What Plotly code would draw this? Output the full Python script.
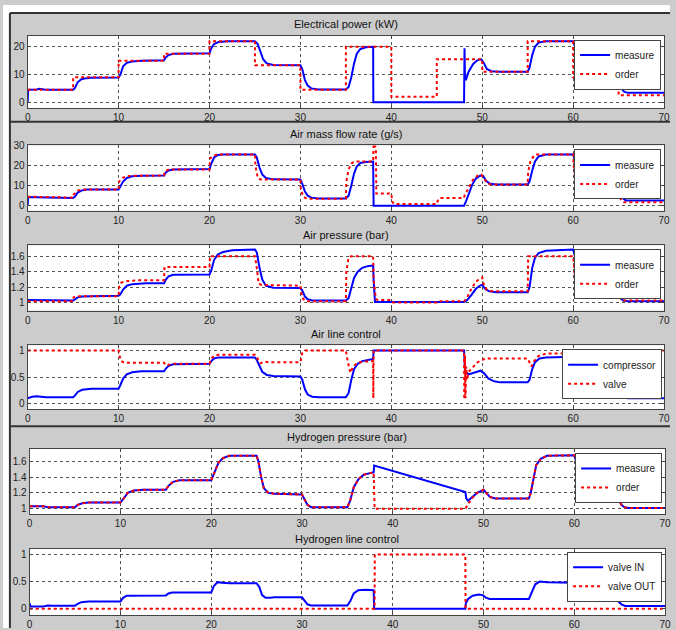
import plotly.graph_objects as go

W, H = 676, 630

# ---------------- DATA ----------------
# Panel 1: Electrical power (kW)
p1_meas_t = [0, 0.05, 1, 1.3, 1.8, 2.5, 5, 5.2, 5.5, 5.9, 6.5, 7, 10, 10.2, 10.5, 10.9, 11.5, 12.5, 15, 15.2, 15.5, 16, 20, 20.2, 20.5, 21, 22, 25, 25.3, 25.6, 25.9, 26.3, 27, 30, 30.2, 30.5, 30.8, 31.2, 32, 35, 35.3, 35.6, 35.9, 36.2, 36.6, 37.2, 38, 38.02, 48, 48.05, 48.1, 48.2, 48.5, 49, 49.5, 49.9, 50.2, 50.5, 51, 52, 55, 55.2, 55.5, 55.8, 56.2, 57, 60, 60.2, 60.5, 60.8, 61.2, 62, 64.9, 65.1, 65.3, 65.6, 66, 70]
p1_meas_v = [0, 4.5, 4.6, 4.9, 4.6, 4.5, 4.5, 5.2, 7.2, 8.3, 8.7, 8.8, 8.9, 10, 13, 14.2, 14.7, 15, 15.1, 16.2, 17, 17.5, 17.7, 19.5, 21, 21.7, 22, 22, 21, 18, 15.5, 14, 13.4, 13.3, 12, 8, 6, 5, 4.6, 4.6, 5.5, 9, 14, 17.5, 19.2, 19.8, 20, 0, 0, 19.5, 9, 8, 11, 13.8, 15.2, 15.5, 14, 12, 11.2, 11, 11, 12.5, 17, 20, 21.5, 22, 22, 20, 15, 11.5, 10, 9.5, 9.5, 8, 5, 3.8, 3.4, 3.4]
p1_order_t = [0, 5, 10, 15, 20, 25, 30, 35, 40, 45, 50, 55, 60, 65, 70]
p1_order_v = [4.5, 9, 15, 17.5, 22, 13.3, 4.5, 20, 2, 15.5, 11, 22, 9, 2.5, 2.5]

# Panel 2: Air mass flow rate (g/s)
p2_meas_t = [0, 0.05, 2, 5, 5.2, 5.5, 5.9, 6.5, 10, 10.2, 10.5, 10.9, 11.5, 12.5, 15, 15.2, 15.5, 16, 20, 20.2, 20.5, 20.9, 21.5, 25, 25.2, 25.5, 25.8, 26.2, 27, 30, 30.2, 30.5, 30.8, 31.2, 32, 35, 35.3, 35.6, 35.9, 36.2, 36.6, 37.2, 38, 38.05, 48, 48.2, 48.5, 48.9, 49.3, 49.8, 50.1, 50.4, 50.8, 51.5, 55, 55.2, 55.5, 55.8, 56.2, 57, 60, 60.2, 60.5, 60.8, 61.2, 62, 65, 65.2, 65.5, 65.8, 70]
p2_meas_v = [0, 4.3, 4.1, 3.8, 4.5, 6.5, 7.5, 8, 8.1, 9.5, 12, 13.8, 14.6, 14.9, 15, 16.5, 17.5, 18, 18.2, 21, 24, 25.2, 25.5, 25.5, 24, 19, 15.5, 13.8, 13.1, 13, 11, 7, 5, 4, 3.6, 3.6, 5, 10, 16, 19.5, 21.3, 21.8, 22, 0, 0, 2, 6, 10.5, 13.5, 15, 14.8, 12.5, 11, 10.5, 10.5, 12, 17.5, 22, 24.5, 25.5, 25.5, 23, 16, 11, 9.5, 8.8, 8.8, 6, 3.5, 2.6, 2.6]
p2_order_t = [0, 2, 5, 5.05, 5.5, 6, 10, 10.05, 10.5, 11, 15, 15.05, 15.5, 20, 20.05, 20.5, 21, 25, 25.05, 25.3, 25.6, 30, 30.05, 30.3, 30.7, 35, 35.05, 35.3, 35.6, 36, 38, 38.05, 38.3, 38.35, 40, 40.1, 40.3, 45, 45.1, 45.3, 48, 48.05, 48.5, 49, 49.5, 49.9, 50.2, 50.6, 51, 55, 55.05, 55.3, 55.7, 56, 60, 60.05, 60.3, 60.6, 61, 65, 65.05, 65.3, 65.6, 70]
p2_order_v = [4.5, 4.2, 4, 5.5, 7.5, 8, 8, 12, 14, 14.8, 15, 17, 18, 18, 23.5, 25, 25.5, 25.5, 20, 14, 13, 13, 8, 4.5, 3.5, 3.5, 12, 18, 21, 22, 22, 31, 29, 6, 6, 2, 0.8, 0.8, 2.5, 3.8, 3.8, 5, 9, 13, 15, 15.5, 13.5, 11, 10.5, 10.5, 17, 22, 25, 25.5, 25.5, 20, 12, 9, 8.5, 8.5, 5, 2.5, 1.7, 1.7]

# Panel 3: Air pressure (bar)
p3_meas_t = [0, 1.5, 2, 5, 5.2, 5.5, 6, 7, 10, 10.2, 10.5, 10.9, 11.5, 13, 15, 15.2, 15.5, 16, 20, 20.2, 20.5, 20.9, 21.5, 22.5, 25, 25.2, 25.5, 25.8, 26.2, 27, 30, 30.2, 30.5, 30.8, 31.3, 35, 35.3, 35.6, 35.9, 36.3, 36.8, 37.5, 38, 38.05, 38.2, 48, 48.3, 48.8, 49.3, 49.8, 50, 50.3, 50.7, 51.5, 55, 55.2, 55.5, 55.8, 56.2, 57, 60, 60.2, 60.5, 60.8, 61.3, 62, 65, 65.2, 65.5, 66, 70]
p3_meas_v = [1.035, 1.035, 1.03, 1.03, 1.045, 1.07, 1.08, 1.085, 1.09, 1.11, 1.17, 1.22, 1.24, 1.25, 1.25, 1.3, 1.34, 1.36, 1.365, 1.42, 1.55, 1.62, 1.655, 1.675, 1.685, 1.65, 1.45, 1.3, 1.22, 1.195, 1.19, 1.16, 1.08, 1.045, 1.03, 1.03, 1.06, 1.2, 1.32, 1.4, 1.45, 1.475, 1.48, 1.3, 1.01, 1.01, 1.03, 1.1, 1.18, 1.225, 1.23, 1.18, 1.15, 1.135, 1.135, 1.2, 1.45, 1.58, 1.64, 1.67, 1.685, 1.6, 1.35, 1.17, 1.11, 1.1, 1.1, 1.06, 1.03, 1.02, 1.02]
p3_order_t = [0, 5, 5.05, 5.5, 10, 10.05, 10.3, 11, 12, 15, 15.05, 20, 20.05, 25, 25.2, 25.4, 25.7, 30, 30.05, 30.3, 30.6, 35, 35.05, 35.3, 35.6, 38, 38.05, 38.3, 38.5, 40, 40.2, 45, 45.1, 48, 48.3, 48.8, 49.3, 49.8, 50, 50.2, 50.5, 51, 55, 55.05, 60, 60.2, 60.5, 60.9, 65, 65.1, 65.4, 70]
p3_order_v = [1.02, 1.02, 1.07, 1.085, 1.085, 1.22, 1.26, 1.28, 1.29, 1.29, 1.46, 1.46, 1.6, 1.6, 1.45, 1.25, 1.23, 1.22, 1.15, 1.05, 1.02, 1.02, 1.4, 1.58, 1.6, 1.6, 1.3, 1.05, 1.035, 1.035, 1.005, 1.005, 1.02, 1.02, 1.06, 1.18, 1.27, 1.32, 1.325, 1.22, 1.17, 1.15, 1.15, 1.6, 1.6, 1.3, 1.13, 1.11, 1.11, 1.07, 1.03, 1.03]

# Panel 4: Air line control
p4_comp_t = [0, 0.5, 1, 2, 5, 5.2, 5.5, 6, 7, 10, 10.2, 10.5, 10.9, 11.5, 12.5, 15, 15.2, 15.5, 16, 20, 20.2, 20.5, 21, 25, 25.2, 25.5, 25.8, 26.3, 27, 30, 30.2, 30.5, 30.8, 31.3, 32, 35, 35.3, 35.6, 35.9, 36.3, 36.8, 38, 38.05, 48, 48.1, 48.5, 49, 49.8, 50.2, 50.7, 51.3, 52, 55, 55.2, 55.5, 55.8, 56.3, 57, 60, 60.3, 60.6, 60.9, 61.4, 62, 65, 65.2, 65.5, 66, 70]
p4_comp_v = [0.1, 0.13, 0.14, 0.12, 0.12, 0.15, 0.22, 0.26, 0.28, 0.28, 0.35, 0.47, 0.55, 0.59, 0.61, 0.61, 0.66, 0.71, 0.74, 0.75, 0.8, 0.85, 0.87, 0.87, 0.82, 0.7, 0.6, 0.54, 0.52, 0.51, 0.45, 0.27, 0.17, 0.13, 0.12, 0.12, 0.2, 0.45, 0.65, 0.75, 0.8, 0.84, 1, 1, 0.6, 0.55, 0.58, 0.62, 0.57, 0.47, 0.42, 0.4, 0.4, 0.45, 0.65, 0.78, 0.85, 0.87, 0.88, 0.8, 0.55, 0.4, 0.33, 0.3, 0.3, 0.22, 0.12, 0.1, 0.1]
p4_valve_t = [0, 10, 10.1, 10.3, 10.6, 15, 15.2, 15.5, 16, 20, 20.2, 20.5, 21, 25, 25.3, 25.6, 26, 26.5, 30, 30.2, 30.5, 35, 35.2, 35.5, 35.8, 36.3, 37, 38, 38.02, 38.05, 48, 48.02, 48.1, 48.15, 48.25, 48.3, 48.5, 49, 49.5, 50, 50.3, 55, 55.2, 55.4, 55.7, 56.2, 57, 60, 60.3, 61, 70]
p4_valve_v = [1, 1, 0.9, 0.8, 0.77, 0.77, 0.72, 0.73, 0.75, 0.75, 0.85, 0.9, 0.92, 0.92, 0.85, 0.76, 0.79, 0.78, 0.78, 0.95, 1, 1, 0.8, 0.58, 0.7, 0.77, 0.79, 0.8, 0.1, 1, 1, 0.08, 0.9, 0.1, 0.7, 0.45, 0.6, 0.7, 0.78, 0.82, 0.85, 0.85, 0.78, 0.7, 0.8, 0.9, 0.94, 0.95, 0.98, 1, 1]

# Panel 5: Hydrogen pressure (bar)
p5_meas_t = [0, 1.5, 2, 5, 5.3, 5.8, 6.5, 10, 10.3, 10.8, 11.5, 12.5, 15, 15.3, 15.8, 16.5, 20, 20.3, 20.8, 21.3, 22, 25, 25.2, 25.5, 25.8, 26.3, 27, 30, 30.3, 30.6, 31, 35, 35.3, 35.7, 36.2, 36.8, 37.5, 37.9, 37.95, 48, 48.1, 48.3, 48.8, 49.3, 50, 50.3, 50.7, 51.3, 55, 55.2, 55.5, 55.8, 56.3, 57, 60, 60.2, 60.5, 60.8, 61.3, 62, 65, 65.2, 65.5, 66, 70]
p5_meas_v = [1.03, 1.03, 1.02, 1.02, 1.05, 1.07, 1.08, 1.08, 1.12, 1.2, 1.23, 1.24, 1.24, 1.29, 1.34, 1.36, 1.36, 1.45, 1.58, 1.64, 1.67, 1.67, 1.6, 1.4, 1.26, 1.2, 1.19, 1.18, 1.12, 1.05, 1.02, 1.02, 1.1, 1.27, 1.37, 1.43, 1.45, 1.46, 1.545, 1.21, 1.13, 1.1, 1.15, 1.2, 1.24, 1.2, 1.15, 1.13, 1.13, 1.2, 1.4, 1.55, 1.63, 1.67, 1.675, 1.6, 1.35, 1.18, 1.1, 1.09, 1.09, 1.05, 1.02, 1.01, 1.01]
p5_order_t = [0, 1.5, 2, 5, 5.3, 5.8, 6.5, 10, 10.3, 10.8, 11.5, 12.5, 15, 15.3, 15.8, 16.5, 20, 20.3, 20.8, 21.3, 22, 25, 25.2, 25.5, 25.8, 26.3, 27, 30, 30.3, 30.6, 31, 35, 35.3, 35.7, 36.2, 36.8, 37.5, 37.9, 38.0, 48, 48.3, 48.8, 49.3, 50, 50.3, 50.7, 51.3, 55, 55.2, 55.5, 55.8, 56.3, 57, 60, 60.2, 60.5, 60.8, 61.3, 62, 65, 65.2, 65.5, 66, 70]
p5_order_v = [1.03, 1.03, 1.02, 1.02, 1.05, 1.07, 1.08, 1.08, 1.12, 1.2, 1.23, 1.24, 1.24, 1.29, 1.34, 1.36, 1.36, 1.45, 1.58, 1.64, 1.67, 1.67, 1.6, 1.4, 1.26, 1.2, 1.19, 1.18, 1.12, 1.05, 1.02, 1.02, 1.1, 1.27, 1.37, 1.43, 1.45, 1.46, 1.0, 1.0, 1.06, 1.14, 1.2, 1.24, 1.2, 1.15, 1.13, 1.13, 1.2, 1.4, 1.55, 1.63, 1.67, 1.675, 1.6, 1.35, 1.18, 1.1, 1.09, 1.09, 1.05, 1.02, 1.01, 1.01]

# Panel 6: Hydrogen line control
p6_in_t = [0, 0.1, 1.5, 2, 2.5, 5, 5.3, 5.7, 6.5, 10, 10.3, 10.7, 15, 15.3, 15.7, 20, 20.3, 20.7, 21.2, 22, 25, 25.3, 25.6, 26, 26.5, 27, 30, 30.3, 30.6, 31, 35, 35.3, 35.7, 36.2, 37, 37.9, 37.95, 48, 48.05, 48.3, 48.8, 49.5, 49.9, 50.3, 50.7, 55, 55.3, 55.7, 56.2, 57, 60, 60.3, 60.6, 61, 64.8, 65.2, 65.6, 70]
p6_in_v = [0.1, 0.04, 0.04, 0.06, 0.055, 0.055, 0.09, 0.12, 0.13, 0.13, 0.2, 0.24, 0.245, 0.28, 0.3, 0.3, 0.42, 0.49, 0.48, 0.47, 0.47, 0.4, 0.25, 0.2, 0.2, 0.21, 0.21, 0.15, 0.08, 0.06, 0.06, 0.13, 0.28, 0.34, 0.35, 0.34, 0.0, 0.0, 0.1, 0.18, 0.24, 0.26, 0.25, 0.2, 0.18, 0.18, 0.3, 0.45, 0.5, 0.49, 0.48, 0.35, 0.18, 0.14, 0.14, 0.08, 0.05, 0.05]
p6_out_t = [0, 38, 38.02, 48, 48.02, 70]
p6_out_v = [0, 0, 1, 1, 0, 0]

x_ticks = [0, 10, 20, 30, 40, 50, 60, 70]

# ---------------- LAYOUT ----------------
panels = [
    dict(title="Electrical power (kW)", names=("measure", "order"),
         s=[(p1_meas_t, p1_meas_v), (p1_order_t, p1_order_v)], hv=True,
         yr=[-2, 24], yt=[0, 10, 20], box=(25, 670, 31, 104), tty=19, leg=(667, 35)),
    dict(title="Air mass flow rate (g/s)", names=("measure", "order"),
         s=[(p2_meas_t, p2_meas_v), (p2_order_t, p2_order_v)], hv=False,
         yr=[-2.5, 30], yt=[0, 10, 20, 30], box=(25, 670, 142, 208), tty=130, leg=(667, 146)),
    dict(title="Air pressure (bar)", names=("measure", "order"),
         s=[(p3_meas_t, p3_meas_v), (p3_order_t, p3_order_v)], hv=False,
         yr=[0.9, 1.74], yt=[1, 1.2, 1.4, 1.6], box=(25, 670, 243, 309), tty=233, leg=(667, 247)),
    dict(title="Air line control", names=("compressor", "valve"),
         s=[(p4_comp_t, p4_comp_v), (p4_valve_t, p4_valve_v)], hv=False,
         yr=[-0.11, 1.1], yt=[0, 0.5, 1], box=(25, 670, 344, 409), tty=333, leg=(668, 348)),
    dict(title="Hydrogen pressure (bar)", names=("measure", "order"),
         s=[(p5_meas_t, p5_meas_v), (p5_order_t, p5_order_v)], hv=False,
         yr=[0.93, 1.755], yt=[1, 1.2, 1.4, 1.6], box=(27, 671, 449, 515), tty=437, leg=(668, 453)),
    dict(title="Hydrogen line control", names=("valve IN", "valve OUT"),
         s=[(p6_in_t, p6_in_v), (p6_out_t, p6_out_v)], hv=False,
         yr=[-0.12, 1.105], yt=[0, 0.5, 1], box=(27, 671, 550, 617), tty=540, leg=(668, 553)),
]

FONT = "Liberation Sans, Arial, sans-serif"
fig = go.Figure()
layout = dict(
    width=W, height=H, margin=dict(l=0, r=0, t=0, b=0),
    paper_bgcolor="#cccccc", plot_bgcolor="white",
    font=dict(family=FONT, size=10, color="#222"),
    showlegend=True, annotations=[], shapes=[],
)

for i, p in enumerate(panels, start=1):
    x0, x1, y0, y1 = p["box"]
    xa = "xaxis" if i == 1 else f"xaxis{i}"
    ya = "yaxis" if i == 1 else f"yaxis{i}"
    xr = "x" if i == 1 else f"x{i}"
    yr = "y" if i == 1 else f"y{i}"
    lg = "legend" if i == 1 else f"legend{i}"
    common = dict(showline=True, linecolor="#444", linewidth=1, mirror="ticks",
                  ticks="inside", ticklen=3, tickcolor="#444",
                  showgrid=True, gridcolor="#555", gridwidth=1, griddash="dot",
                  zeroline=False, tickfont=dict(size=10, color="#222", family=FONT))
    layout[xa] = dict(domain=[x0 / W, x1 / W], range=[0, 70], tickvals=x_ticks,
                      anchor=yr, **common)
    layout[ya] = dict(domain=[1 - y1 / H, 1 - y0 / H], range=p["yr"], tickvals=p["yt"],
                      anchor=xr, **common)
    (mt, mv), (ot, ov) = p["s"]
    fig.add_trace(go.Scatter(x=mt, y=mv, mode="lines", name=p["names"][0],
                             line=dict(color="#0000ff", width=2),
                             xaxis=xr, yaxis=yr, legend=lg))
    fig.add_trace(go.Scatter(x=ot, y=ov, mode="lines", name=p["names"][1],
                             line=dict(color="#ff0000", width=2, dash="dot",
                                       shape="hv" if p["hv"] else "linear"),
                             xaxis=xr, yaxis=yr, legend=lg))
    lx, ly = p["leg"]
    layout[lg] = dict(x=lx / W, y=1 - ly / H, xanchor="right", yanchor="top",
                      bgcolor="white", bordercolor="#444", borderwidth=1,
                      font=dict(size=10, color="#222", family=FONT),
                      itemwidth=30, tracegroupgap=0)
    layout["annotations"].append(dict(text=p["title"], x=(x0 + x1) / 2 / W,
                                      y=1 - p["tty"] / H, xref="paper", yref="paper",
                                      showarrow=False, xanchor="center", yanchor="middle",
                                      font=dict(size=11, color="#111", family=FONT)))

def hline(y, x0=7, x1=W):
    return dict(type="line", xref="paper", yref="paper", x0=x0 / W, x1=x1 / W,
                y0=1 - y / H, y1=1 - y / H, line=dict(color="#333", width=2))

layout["shapes"] = [
    dict(type="rect", xref="paper", yref="paper", x0=0, x1=7 / W, y0=0, y1=1,
         fillcolor="white", line=dict(width=0)),
    dict(type="rect", xref="paper", yref="paper", x0=0, x1=1, y0=1 - 8 / H, y1=1,
         fillcolor="white", line=dict(width=0)),
    hline(8), hline(118), hline(426),
    dict(type="line", xref="paper", yref="paper", x0=7 / W, x1=7 / W, y0=0, y1=1 - 8 / H,
         line=dict(color="#333", width=2)),
]

fig.update_layout(**layout)
fig.write_html("out.html", config={"displayModeBar": False},
               post_script="document.body.style.margin='0';document.body.style.padding='0';"
                           "document.body.style.overflow='hidden';"
                           "document.documentElement.style.overflow='hidden';"
                           "var d=document.getElementById('{plot_id}');"
                           "d.style.position='absolute';d.style.left='0px';d.style.top='0px';")
